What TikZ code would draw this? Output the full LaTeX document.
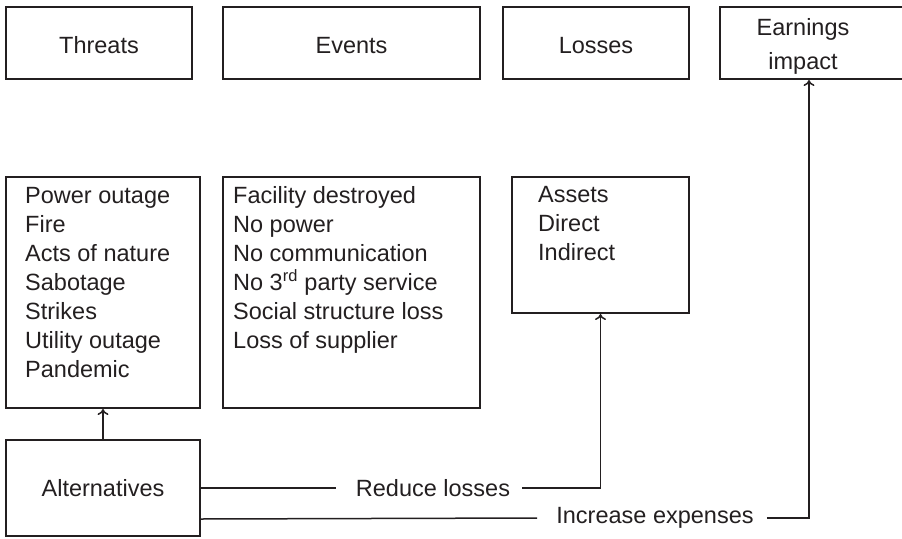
\documentclass[tikz,border=0pt]{standalone}
\usepackage{fontspec}
\setmainfont{Liberation Sans}
\usetikzlibrary{arrows.meta}
\definecolor{ink}{HTML}{231F20}
\tikzset{
  box/.style={draw=ink, line width=2pt, rectangle, inner sep=0pt, text=ink,
    font=\fontsize{23.5}{29}\selectfont},
  headbox/.style={box, minimum height=72pt, text height=21pt, text depth=0pt},
  listtext/.style={anchor=north west, inner sep=0pt, align=left, text=ink,
    font=\fontsize{23.5}{29}\selectfont},
  lbl/.style={inner sep=0pt, text=ink, font=\fontsize{23.5}{29}\selectfont},
  link/.style={draw=ink, line width=1.5pt},
  arr/.style={link, -{To[length=6pt,width=11pt]}}
}
\begin{document}
\begin{tikzpicture}[x=1pt,y=-1pt]
\useasboundingbox (0,0) rectangle (902,538);

% column headings
\node[headbox, minimum width=186pt] (hThreats) at (99,43) {Threats};
\node[headbox, minimum width=257pt] (hEvents) at (351.5,43) {Events};
\node[headbox, minimum width=186pt] (hLosses) at (596,43) {Losses};
\node[box, minimum width=186pt, minimum height=72pt] (hEarn) at (813,43) {};
\node[lbl, align=center, font=\fontsize{23.5}{34}\selectfont] (hEarnTxt) at (803,46) {Earnings\\impact};

% content boxes
\node[box, minimum width=194pt, minimum height=231pt] (lThreats) at (103,292.5) {};
\node[box, minimum width=257pt, minimum height=231pt] (lEvents) at (351.5,292.5) {};
\node[box, minimum width=177pt, minimum height=136pt] (lLosses) at (600.5,245) {};

\node[listtext] (tThreats) at (25,187.5) {Power outage\\Fire\\Acts of nature\\Sabotage\\Strikes\\Utility outage\\Pandemic};
\node[listtext] (tEvents) at (233,186.5) {Facility destroyed\\No power\\No communication\\No 3\textsuperscript{rd} party service\\Social structure loss\\Loss of supplier};
\node[listtext] (tLosses) at (538,186.5) {Assets\\Direct\\Indirect};

% alternatives and its effects
\node[box, minimum width=194pt, minimum height=96pt] (alt) at (103,488) {Alternatives};
\node[lbl] (reduce) at (433,488) {Reduce losses};
\node[lbl] (increase) at (655,518) {Increase expenses};

\draw[arr] (alt.north) -- (lThreats.south);
\draw[link] (alt.east) -- ([xshift=-20pt]reduce.west);
\draw[arr] ([xshift=12pt]reduce.east) -| (lLosses.south);
\draw[link] ([yshift=18pt]alt.south east) -- ([xshift=-19pt]increase.west);
\draw[arr] ([xshift=13pt]increase.east) -| ([xshift=-4pt]hEarn.south);
\end{tikzpicture}
\end{document}
